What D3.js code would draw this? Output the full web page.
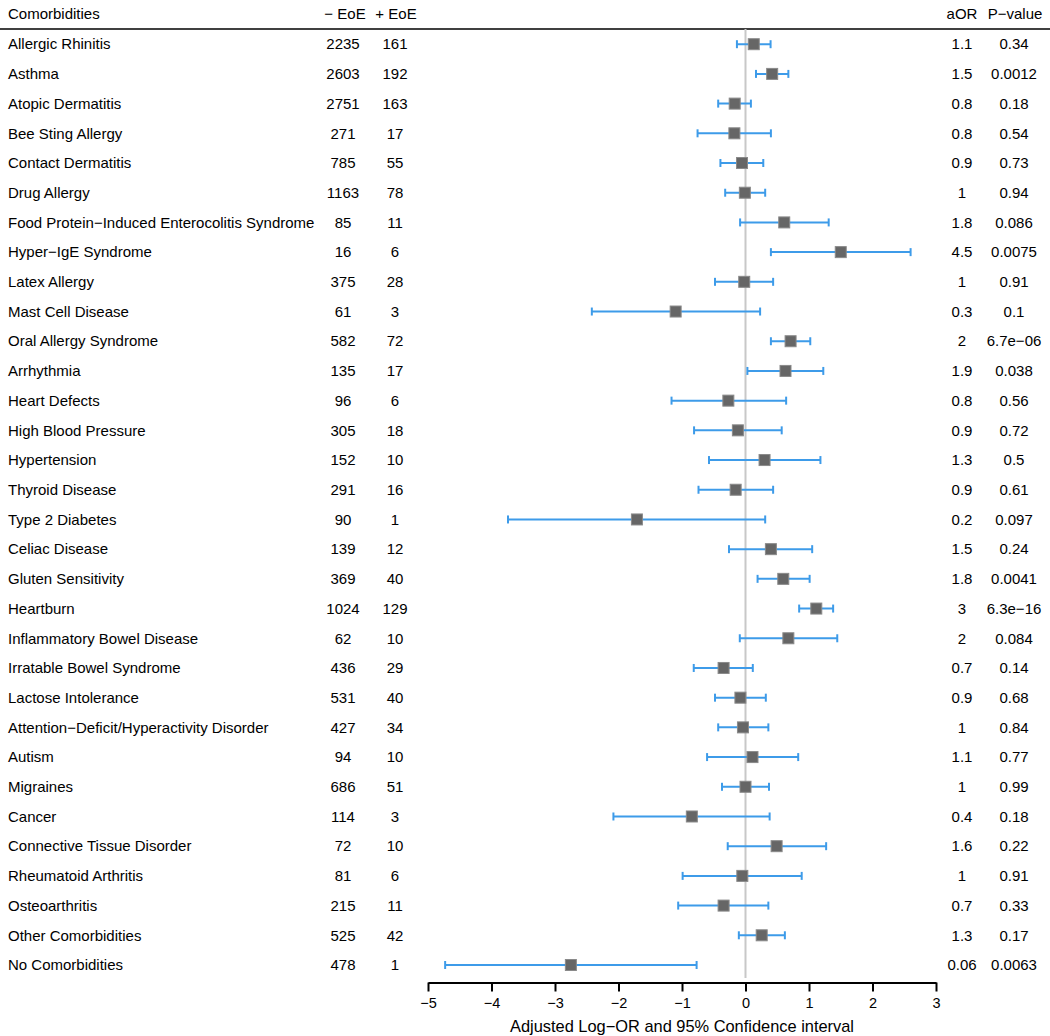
<!DOCTYPE html>
<html>
<head>
<meta charset="utf-8">
<script src="https://cdn.jsdelivr.net/npm/d3@7"></script>
<style>
  html, body { margin: 0; padding: 0; background: #fff; }
  svg { display: block; font-family: "Liberation Sans", Arial, Helvetica, sans-serif; }
</style>
</head>
<body>
<svg id="chart" width="1050" height="1036"></svg>
<script>
const labels = [
  "Allergic Rhinitis", "Asthma", "Atopic Dermatitis", "Bee Sting Allergy",
  "Contact Dermatitis", "Drug Allergy", "Food Protein\u2212Induced Enterocolitis Syndrome",
  "Hyper\u2212IgE Syndrome", "Latex Allergy", "Mast Cell Disease", "Oral Allergy Syndrome",
  "Arrhythmia", "Heart Defects", "High Blood Pressure", "Hypertension", "Thyroid Disease",
  "Type 2 Diabetes", "Celiac Disease", "Gluten Sensitivity", "Heartburn",
  "Inflammatory Bowel Disease", "Irratable Bowel Syndrome", "Lactose Intolerance",
  "Attention\u2212Deficit/Hyperactivity Disorder", "Autism", "Migraines", "Cancer",
  "Connective Tissue Disorder", "Rheumatoid Arthritis", "Osteoarthritis",
  "Other Comorbidities", "No Comorbidities"
];
const nNoEoE = [2235, 2603, 2751, 271, 785, 1163, 85, 16, 375, 61, 582, 135, 96, 305, 152, 291,
  90, 139, 369, 1024, 62, 436, 531, 427, 94, 686, 114, 72, 81, 215, 525, 478];
const nEoE = [161, 192, 163, 17, 55, 78, 11, 6, 28, 3, 72, 17, 6, 18, 10, 16,
  1, 12, 40, 129, 10, 29, 40, 34, 10, 51, 3, 10, 6, 11, 42, 1];
const logOR = [0.13, 0.42, -0.17, -0.175, -0.055, -0.01, 0.61, 1.50, -0.02, -1.10, 0.71,
  0.63, -0.27, -0.12, 0.30, -0.155, -1.71, 0.40, 0.595, 1.115, 0.675, -0.345, -0.08, -0.04,
  0.11, 0.0, -0.845, 0.49, -0.05, -0.345, 0.255, -2.75];
const ciLow = [-0.135, 0.165, -0.43, -0.755, -0.395, -0.32, -0.085, 0.40, -0.48, -2.42, 0.40,
  0.03, -1.165, -0.81, -0.575, -0.74, -3.74, -0.26, 0.19, 0.845, -0.09, -0.815, -0.48, -0.43,
  -0.605, -0.37, -2.08, -0.28, -0.99, -1.06, -0.105, -4.73];
const ciHigh = [0.395, 0.675, 0.085, 0.40, 0.28, 0.31, 1.31, 2.60, 0.435, 0.23, 1.02,
  1.225, 0.64, 0.57, 1.18, 0.435, 0.31, 1.05, 1.01, 1.38, 1.445, 0.115, 0.32, 0.36,
  0.83, 0.37, 0.38, 1.27, 0.885, 0.36, 0.62, -0.77];
const aOR = ["1.1", "1.5", "0.8", "0.8", "0.9", "1", "1.8", "4.5", "1", "0.3", "2",
  "1.9", "0.8", "0.9", "1.3", "0.9", "0.2", "1.5", "1.8", "3", "2", "0.7", "0.9", "1",
  "1.1", "1", "0.4", "1.6", "1", "0.7", "1.3", "0.06"];
const pValue = ["0.34", "0.0012", "0.18", "0.54", "0.73", "0.94", "0.086", "0.0075", "0.91", "0.1",
  "6.7e\u221206", "0.038", "0.56", "0.72", "0.5", "0.61", "0.097", "0.24", "0.0041", "6.3e\u221216",
  "0.084", "0.14", "0.68", "0.84", "0.77", "0.99", "0.18", "0.22", "0.91", "0.33", "0.17", "0.0063"];
const xTicks = [-5, -4, -3, -2, -1, 0, 1, 2, 3];
const headers = ["Comorbidities", "\u2212 EoE", "+ EoE", "aOR", "P\u2212value"];
const axisTitle = "Adjusted Log\u2212OR and 95% Confidence interval";

const rows = labels.map((l, i) => ({
  label: l, neg: nNoEoE[i], pos: nEoE[i], est: logOR[i], lo: ciLow[i], hi: ciHigh[i],
  aor: aOR[i], p: pValue[i]
}));

const svg = d3.select("#chart");
const x = d3.scaleLinear().domain([-5, 3]).range([428, 936]);
const y = d3.scalePoint().domain(labels).range([44.2, 965]);

const colNeg = 343, colPos = 395, colAOR = 962, colP = 1014;
const fs = 15;

// header
const hdr = svg.append("g").attr("font-size", fs).attr("fill", "#000");
hdr.append("text").attr("x", 8).attr("y", 14).attr("dy", "0.35em").text(headers[0]);
hdr.append("text").attr("x", colNeg + 2).attr("y", 14).attr("dy", "0.35em").attr("text-anchor", "middle").text(headers[1]);
hdr.append("text").attr("x", colPos + 1).attr("y", 14).attr("dy", "0.35em").attr("text-anchor", "middle").text(headers[2]);
hdr.append("text").attr("x", colAOR).attr("y", 14).attr("dy", "0.35em").attr("text-anchor", "middle").text(headers[3]);
hdr.append("text").attr("x", colP + 1).attr("y", 14).attr("dy", "0.35em").attr("text-anchor", "middle").text(headers[4]);

svg.append("line").attr("x1", 0).attr("x2", 1050).attr("y1", 29).attr("y2", 29)
  .attr("stroke", "#000").attr("stroke-width", 1.5);

// zero reference line
svg.append("line").attr("x1", x(0)).attr("x2", x(0)).attr("y1", 29).attr("y2", 978)
  .attr("stroke", "#c8c8c8").attr("stroke-width", 2);

// text columns
const txt = svg.append("g").attr("font-size", fs).attr("fill", "#000");
const rowG = txt.selectAll("g.row").data(rows).join("g").attr("class", "row")
  .attr("transform", d => `translate(0,${y(d.label)})`);
rowG.append("text").attr("x", 8).attr("dy", "0.35em").text(d => d.label);
rowG.append("text").attr("x", colNeg).attr("dy", "0.35em").attr("text-anchor", "middle").text(d => d.neg);
rowG.append("text").attr("x", colPos).attr("dy", "0.35em").attr("text-anchor", "middle").text(d => d.pos);
rowG.append("text").attr("x", colAOR).attr("dy", "0.35em").attr("text-anchor", "middle").text(d => d.aor);
rowG.append("text").attr("x", colP).attr("dy", "0.35em").attr("text-anchor", "middle").text(d => d.p);

// CI bars
const blue = "#3d9be9";
const ci = svg.append("g").selectAll("g").data(rows).join("g")
  .attr("transform", d => `translate(0,${y(d.label)})`);
ci.append("line").attr("x1", d => x(d.lo)).attr("x2", d => x(d.hi))
  .attr("stroke", blue).attr("stroke-width", 2);
ci.append("line").attr("x1", d => x(d.lo)).attr("x2", d => x(d.lo)).attr("y1", -4).attr("y2", 4)
  .attr("stroke", blue).attr("stroke-width", 2);
ci.append("line").attr("x1", d => x(d.hi)).attr("x2", d => x(d.hi)).attr("y1", -4).attr("y2", 4)
  .attr("stroke", blue).attr("stroke-width", 2);
const sq = 11;
ci.append("rect").attr("x", d => x(d.est) - sq / 2).attr("y", -sq / 2)
  .attr("width", sq).attr("height", sq)
  .attr("fill", "#666").attr("stroke", "#8a8a8a").attr("stroke-width", 1);

// axis
const axisG = svg.append("g").attr("transform", "translate(0,982.5)")
  .call(d3.axisBottom(x).tickValues(xTicks).tickSize(9).tickPadding(6).tickSizeOuter(0));
axisG.select(".domain").attr("stroke", "#000").attr("stroke-width", 2);
axisG.selectAll(".tick line").attr("stroke", "#000").attr("stroke-width", 2);
axisG.selectAll(".tick text").attr("font-size", 14.5).attr("fill", "#000")
  .attr("font-family", "'Liberation Sans', Arial, sans-serif");

svg.append("text").attr("x", x(-1)).attr("y", 1026).attr("dy", "0.35em")
  .attr("text-anchor", "middle").attr("font-size", 16.4).text(axisTitle);
</script>
</body>
</html>
